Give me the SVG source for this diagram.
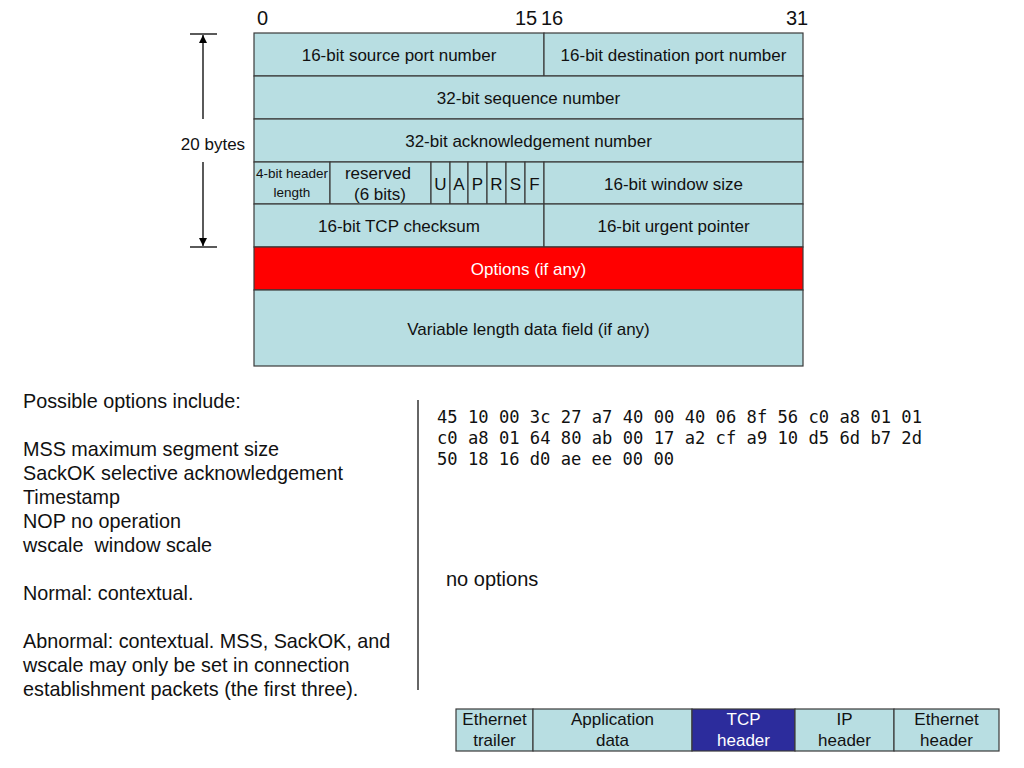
<svg xmlns="http://www.w3.org/2000/svg" width="1024" height="768" viewBox="0 0 1024 768">
<defs>
<style>
.c{fill:#B8DEE2;stroke:#3a3a3a;stroke-width:1.2}
.r{fill:#FF0000;stroke:#3a3a3a;stroke-width:1.2}
.n{fill:#2C2C9C;stroke:#3a3a3a;stroke-width:1.2}
text{font-family:"Liberation Sans",Arial,sans-serif;fill:#111}
.t{font-size:17px;text-anchor:middle}
.s{font-size:13.5px;text-anchor:middle}
.w{fill:#fff}
.b{font-size:20px}
.m{font-family:"DejaVu Sans Mono","Liberation Mono",monospace;font-size:17px}
</style>
<marker id="ah" viewBox="0 0 10 10" refX="10" refY="5" markerWidth="8" markerHeight="8" markerUnits="userSpaceOnUse" orient="auto">
<path d="M0,0 L10,5 L0,10 z" fill="#000"/>
</marker>
</defs>
<rect width="1024" height="768" fill="#fff"/>

<g id="bit-labels">
<text class="b" x="257" y="25">0</text>
<text class="b" x="515" y="25">15</text>
<text class="b" x="541" y="25">16</text>
<text class="b" x="786" y="25">31</text>
</g>

<g id="src-port"><rect class="c" x="254" y="33" width="290" height="43"/><text class="t" x="399" y="61">16-bit source port number</text></g>
<g id="dst-port"><rect class="c" x="544" y="33" width="259" height="43"/><text class="t" x="673.5" y="61">16-bit destination port number</text></g>
<g id="seq"><rect class="c" x="254" y="76" width="549" height="43"/><text class="t" x="528.5" y="104">32-bit sequence number</text></g>
<g id="ack"><rect class="c" x="254" y="119" width="549" height="43"/><text class="t" x="528.5" y="147">32-bit acknowledgement number</text></g>
<g id="hlen"><rect class="c" x="254" y="162" width="76" height="42"/><text class="s" x="292" y="178">4-bit header</text><text class="s" x="292" y="197">length</text></g>
<g id="reserved"><rect class="c" x="330" y="162" width="101" height="42"/><text class="t" x="378" y="179">reserved</text><text class="t" x="380" y="200">(6 bits)</text></g>
<g id="flag-u"><rect class="c" x="431" y="162" width="19" height="42"/><text class="t" x="440.5" y="190">U</text></g>
<g id="flag-a"><rect class="c" x="450" y="162" width="18" height="42"/><text class="t" x="459" y="190">A</text></g>
<g id="flag-p"><rect class="c" x="468" y="162" width="19" height="42"/><text class="t" x="477.5" y="190">P</text></g>
<g id="flag-r"><rect class="c" x="487" y="162" width="19" height="42"/><text class="t" x="496.5" y="190">R</text></g>
<g id="flag-s"><rect class="c" x="506" y="162" width="19" height="42"/><text class="t" x="515.5" y="190">S</text></g>
<g id="flag-f"><rect class="c" x="525" y="162" width="19" height="42"/><text class="t" x="534.5" y="190">F</text></g>
<g id="window"><rect class="c" x="544" y="162" width="259" height="42"/><text class="t" x="673.5" y="190">16-bit window size</text></g>
<g id="checksum"><rect class="c" x="254" y="204" width="290" height="43"/><text class="t" x="399" y="232">16-bit TCP checksum</text></g>
<g id="urgent"><rect class="c" x="544" y="204" width="259" height="43"/><text class="t" x="673.5" y="232">16-bit urgent pointer</text></g>
<g id="options"><rect class="r" x="254" y="247" width="549" height="43"/><text class="t w" x="528.5" y="275">Options (if any)</text></g>
<g id="data"><rect class="c" x="254" y="290" width="549" height="76"/><text class="t" x="528.5" y="335">Variable length data field (if any)</text></g>

<g id="connectors" stroke="#000" stroke-width="1.3" fill="none">
<line x1="190" y1="34" x2="217" y2="34"/>
<line x1="190" y1="247" x2="217" y2="247"/>
<line x1="203" y1="119" x2="203" y2="35" marker-end="url(#ah)"/>
<line x1="203" y1="162" x2="203" y2="246" marker-end="url(#ah)"/>
</g>
<g id="size-label"><text x="213" y="150" style="font-size:17px;text-anchor:middle">20 bytes</text></g>

<g id="notes" style="font-size:19.8px">
<text x="23" y="408">Possible options include:</text>
<text x="23" y="456">MSS maximum segment size</text>
<text x="23" y="480">SackOK selective acknowledgement</text>
<text x="23" y="504">Timestamp</text>
<text x="23" y="528">NOP no operation</text>
<text x="23" y="552" xml:space="preserve">wscale  window scale</text>
<text x="23" y="600">Normal: contextual.</text>
<text x="23" y="648">Abnormal: contextual. MSS, SackOK, and</text>
<text x="23" y="672">wscale may only be set in connection</text>
<text x="23" y="696">establishment packets (the first three).</text>
</g>
<line id="separator" x1="418" y1="400" x2="418" y2="690" stroke="#666" stroke-width="2"/>

<g id="hex">
<text class="m" x="437" y="423" textLength="485" lengthAdjust="spacingAndGlyphs">45 10 00 3c 27 a7 40 00 40 06 8f 56 c0 a8 01 01</text>
<text class="m" x="437" y="444" textLength="485" lengthAdjust="spacingAndGlyphs">c0 a8 01 64 80 ab 00 17 a2 cf a9 10 d5 6d b7 2d</text>
<text class="m" x="437" y="465" textLength="237" lengthAdjust="spacingAndGlyphs">50 18 16 d0 ae ee 00 00</text>
</g>
<text id="no-options" x="446" y="586" style="font-size:20px">no options</text>

<g id="frame">
<g id="eth-trailer"><rect class="c" x="456" y="709" width="77" height="42"/><text class="t" x="494.5" y="725">Ethernet</text><text class="t" x="494.5" y="746">trailer</text></g>
<g id="app-data"><rect class="c" x="533" y="709" width="159" height="42"/><text class="t" x="612.5" y="725">Application</text><text class="t" x="612.5" y="746">data</text></g>
<g id="tcp-header"><rect class="n" x="692" y="709" width="103" height="42"/><text class="t w" x="743.5" y="725">TCP</text><text class="t w" x="743.5" y="746">header</text></g>
<g id="ip-header"><rect class="c" x="795" y="709" width="99" height="42"/><text class="t" x="844.5" y="725">IP</text><text class="t" x="844.5" y="746">header</text></g>
<g id="eth-header"><rect class="c" x="894" y="709" width="105" height="42"/><text class="t" x="946.5" y="725">Ethernet</text><text class="t" x="946.5" y="746">header</text></g>
</g>
</svg>
